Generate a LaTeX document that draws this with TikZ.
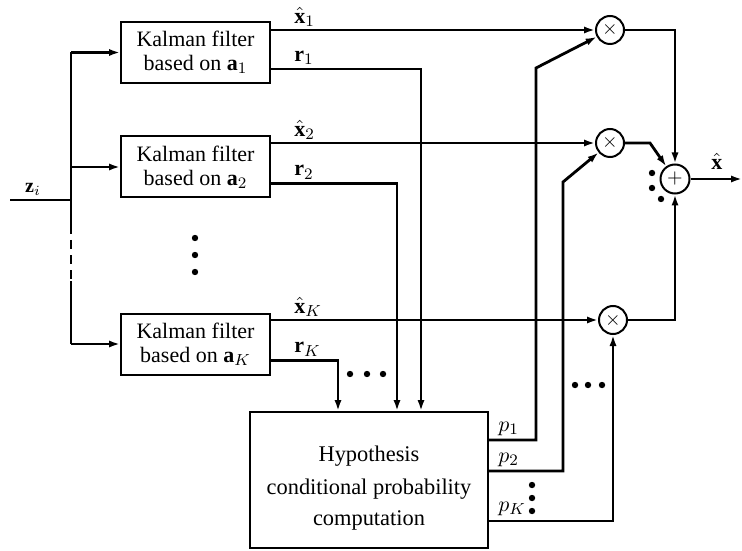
\documentclass[tikz,border=0pt]{standalone}
\usepackage{amsmath,amssymb}
\usepackage{fontspec}
\setmainfont{Liberation Serif}
\usetikzlibrary{calc,positioning,arrows.meta}

\begin{document}
\begin{tikzpicture}[x=0.5pt,y=-0.5pt,
  wire/.style={line width=1.4pt},
  sig/.style={wire,-{Latex[length=5.5pt,width=3.6pt]}},
  kfbox/.style={draw,line width=1pt,align=center,minimum width=74.5pt,minimum height=30.5pt,inner sep=2pt,font=\fontsize{11}{12}\selectfont},
  opnode/.style={draw,circle,line width=1pt,minimum size=14pt,inner sep=0pt},
  lbl/.style={anchor=south west,inner sep=1pt,font=\fontsize{11}{13}\selectfont}]
  \useasboundingbox (0,0) rectangle (742,550);

  % multipliers and summer
  \node[opnode] (m1) at (610,30) {$\times$};
  \node[opnode] (m2) at (610,143) {$\times$};
  \node[opnode] (mK) at (613,320) {$\times$};
  \node[opnode,minimum size=14.5pt] (sum) at (675,179) {$+$};

  \node[draw,line width=1pt,minimum width=119pt,minimum height=68pt] (hyp) at (369,480) {};
  \node[align=center,font=\fontsize{11.2}{13}\selectfont] (hyptext) at ($(hyp.center)+(0,8)$)
    {Hypothesis\\[3.5pt]conditional probability\\[2.5pt]computation};

  \coordinate (zin) at (10,200);
  \coordinate (bus) at (71,200);
  \coordinate (gapa) at (71,225);
  \coordinate (gapb) at (71,281);
  \coordinate (xout) at (742,179);

  % filter bank
  \foreach \i/\y/\rx in {1/52.5/421, 2/167/397, K/344/338} {
    \node[kfbox] (kf\i) at (195.5,\y) {Kalman filter\\based on $\mathbf{a}_{\i}$};
    \draw[sig] (bus |- kf\i.west) -- (kf\i.west);
    \draw[sig] (kf\i.east |- m\i.west) -- (m\i.west);
    \node[lbl] at ($(kf\i.east |- m\i.west)+(21,-1)$) {$\hat{\mathbf{x}}_{\i}$};
    \coordinate (r\i) at (\rx,0);
    \draw[sig] ($(kf\i.south east)+(0,-15)$) -| (r\i |- hyp.north);
    \node[lbl] at ($(kf\i.south east)+(21,-17)$) {$\mathbf{r}_{\i}$};
  }

  % input bus
  \draw[wire] (zin) -- (bus);
  \node[anchor=south,inner sep=1pt] at (33,198) {$\mathbf{z}_i$};
  \draw[wire] (bus |- kf1.west) -- (gapa);
  \draw[wire,dash pattern=on 4.5pt off 3pt] (gapa) -- (gapb);
  \draw[wire] (gapb) -- (bus |- kfK.west);

  % probabilities
  \coordinate (p1b) at (536,68);
  \coordinate (p2b) at (563,182);
  \draw[sig] ($(hyp.north east)+(0,29)$) -| (p1b) -- (m1);
  \draw[sig] ($(hyp.north east)+(0,60)$) -| (p2b) -- (m2);
  \draw[sig] ($(hyp.north east)+(0,110)$) -| (mK.south);
  \node[lbl] at ($(hyp.north east)+(7,27)$) {$p_1$};
  \node[lbl] at ($(hyp.north east)+(7,58)$) {$p_2$};
  \node[lbl] at ($(hyp.north east)+(7,107)$) {$p_K$};

  % products to summer
  \coordinate (m2b) at (650,143);
  \draw[sig] (m1.east) -| (sum.north);
  \draw[sig] (m2.east) -- (m2b) -- (sum);
  \draw[sig] (mK.east) -| (sum.south);
  \draw[sig] (sum.east) -- (xout);
  \node[lbl] at (709,172) {$\hat{\mathbf{x}}$};

  % ellipses
  \foreach \p in {(195,238),(195,255),(195,272),
                  (350,374),(367,374),(383,374),
                  (575,385),(588,385),(602,385),
                  (532,485),(532,498),(532,511),
                  (652,173),(652,188),(661,199)}
    \fill \p circle (1.6pt);
\end{tikzpicture}
\end{document}
